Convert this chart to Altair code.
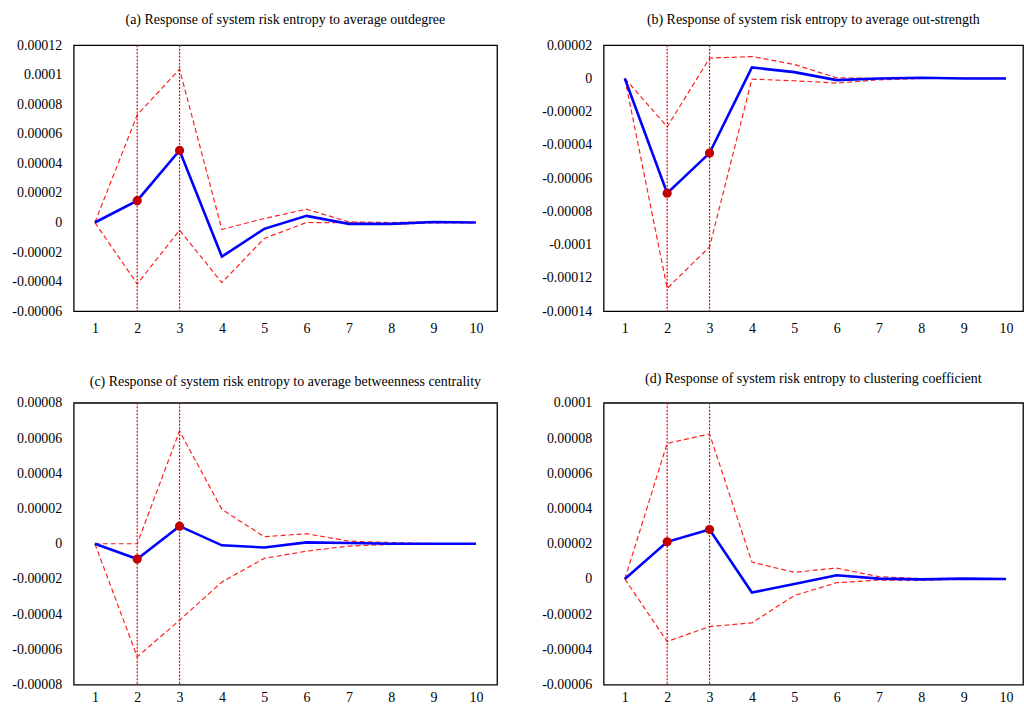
import altair as alt
import pandas as pd

horizon = [1, 2, 3, 4, 5, 6, 7, 8, 9, 10]
marked = [2, 3]

titles = [
    "(a) Response of system risk entropy to average outdegree",
    "(b) Response of system risk entropy to average out-strength",
    "(c) Response of system risk entropy to average betweenness centrality",
    "(d) Response of system risk entropy to clustering coefficient",
]

a_resp = [0, 0.0000148, 0.0000488, -0.0000231, -0.0000043, 0.0000045, -0.0000009, -0.0000009, 0.0000004, 0]
a_upper = [0, 0.0000728, 0.0001038, -0.0000047, 0.0000027, 0.0000090, 0.0000004, 0.0000000, 0.0000004, 0]
a_lower = [0, -0.0000416, -0.0000052, -0.0000407, -0.0000108, 0.0000000, -0.0000002, -0.0000013, -0.0000002, -0.0000002]
a_ticks = [-0.00006, -0.00004, -0.00002, 0, 0.00002, 0.00004, 0.00006, 0.00008, 0.0001, 0.00012]

b_resp = [0, -0.0000690, -0.0000449, 0.0000066, 0.0000038, -0.0000010, 0.0000000, 0.0000004, 0, 0]
b_upper = [0, -0.0000291, 0.0000122, 0.0000132, 0.0000084, 0.0000004, 0.0000000, 0.0000004, 0, 0]
b_lower = [0, -0.0001263, -0.0001013, -0.0000004, -0.0000014, -0.0000028, -0.0000008, 0.0000000, 0, 0]
b_ticks = [-0.00014, -0.00012, -0.0001, -0.00008, -0.00006, -0.00004, -0.00002, 0, 0.00002]

c_resp = [0, -0.0000087, 0.0000100, -0.0000009, -0.0000021, 0.0000008, 0.0000004, 0, 0, 0]
c_upper = [0, 0.0000000, 0.0000640, 0.0000195, 0.0000040, 0.0000057, 0.0000015, 0.0000007, 0, 0]
c_lower = [0, -0.0000642, -0.0000434, -0.0000217, -0.0000083, -0.0000042, -0.0000013, -0.0000004, -0.0000004, 0]
c_ticks = [-0.00008, -0.00006, -0.00004, -0.00002, 0, 0.00002, 0.00004, 0.00006, 0.00008]

d_resp = [0, 0.0000211, 0.0000281, -0.0000077, -0.0000028, 0.0000021, 0.0000002, -0.0000002, 0.0000002, 0]
d_upper = [0, 0.0000770, 0.0000823, 0.0000096, 0.0000038, 0.0000062, 0.0000013, 0.0000002, 0.0000004, 0]
d_lower = [0, -0.0000355, -0.0000270, -0.0000249, -0.0000094, -0.0000021, -0.0000006, -0.0000008, 0, 0]
d_ticks = [-0.00006, -0.00004, -0.00002, 0, 0.00002, 0.00004, 0.00006, 0.00008, 0.0001]

FONT = "Liberation Serif"
FS = 14


def panel(title, resp, upper, lower, ticks, width, height, xmax, title_offset, xpad):
    df = pd.DataFrame({"h": horizon, "resp": resp, "upper": upper, "lower": lower})
    long = df.melt("h", value_vars=["upper", "lower"], var_name="band", value_name="v")
    xs = alt.Scale(domain=[0.5, xmax], nice=False, zero=False)
    xa = alt.Axis(values=horizon, format="d", title=None, labelPadding=xpad,
                  labelFont=FONT, labelFontSize=FS, labelColor="#000",
                  ticks=False, domain=False, grid=False)
    ys = alt.Scale(domain=[ticks[0], ticks[-1]], nice=False, zero=False)
    ya = alt.Axis(values=ticks, labelExpr="'' + datum.value", title=None, labelPadding=12,
                  labelFont=FONT, labelFontSize=FS, labelColor="#000",
                  ticks=False, domain=False, grid=False)

    bands = alt.Chart(long).mark_line(
        color="#ff2020", strokeDash=[5, 3], strokeWidth=1.2
    ).encode(
        x=alt.X("h:Q", scale=xs, axis=xa),
        y=alt.Y("v:Q", scale=ys, axis=ya),
        detail="band:N",
    )
    rules = alt.Chart(pd.DataFrame({"h": marked})).mark_rule(
        color="#e00000", strokeDash=[2, 1.5], strokeWidth=1.2
    ).encode(x=alt.X("h:Q", scale=xs, axis=xa))
    line = alt.Chart(df).mark_line(color="#0000ff", strokeWidth=2.6).encode(
        x=alt.X("h:Q", scale=xs, axis=xa),
        y=alt.Y("resp:Q", scale=ys, axis=ya),
    )
    dots = alt.Chart(df[df["h"].isin(marked)]).mark_circle(
        size=85, color="#c00000", opacity=1
    ).encode(
        x=alt.X("h:Q", scale=xs, axis=xa),
        y=alt.Y("resp:Q", scale=ys, axis=ya),
    )
    return alt.layer(bands, rules, line, dots).properties(
        width=width,
        height=height,
        title=alt.TitleParams(
            title, font=FONT, fontSize=FS, fontWeight="normal", color="#000",
            anchor="middle", frame="group", offset=title_offset,
        ),
    )


pa = panel(titles[0], a_resp, a_upper, a_lower, a_ticks, 425, 267, 10.5, 11, 10)
pb = panel(titles[1], b_resp, b_upper, b_lower, b_ticks, 421, 267, 10.4, 11, 10)
pc = panel(titles[2], c_resp, c_upper, c_lower, c_ticks, 425, 283, 10.5, 7, 6)
pd_ = panel(titles[3], d_resp, d_upper, d_lower, d_ticks, 421, 283, 10.4, 10, 6)

chart = alt.vconcat(
    alt.hconcat(pa, pb, spacing=43),
    alt.hconcat(pc, pd_, spacing=43),
    spacing=35,
).properties(
    padding={"left": 11, "top": 11, "right": 0, "bottom": 0},
    background="white",
).configure_view(
    stroke="#000", strokeWidth=1.3
).configure_axis(
    ticks=False, domain=False, grid=False,
    labelFont=FONT, labelFontSize=FS, labelColor="#000",
)

chart.save("out.html", embed_options={"renderer": "svg", "actions": False})
